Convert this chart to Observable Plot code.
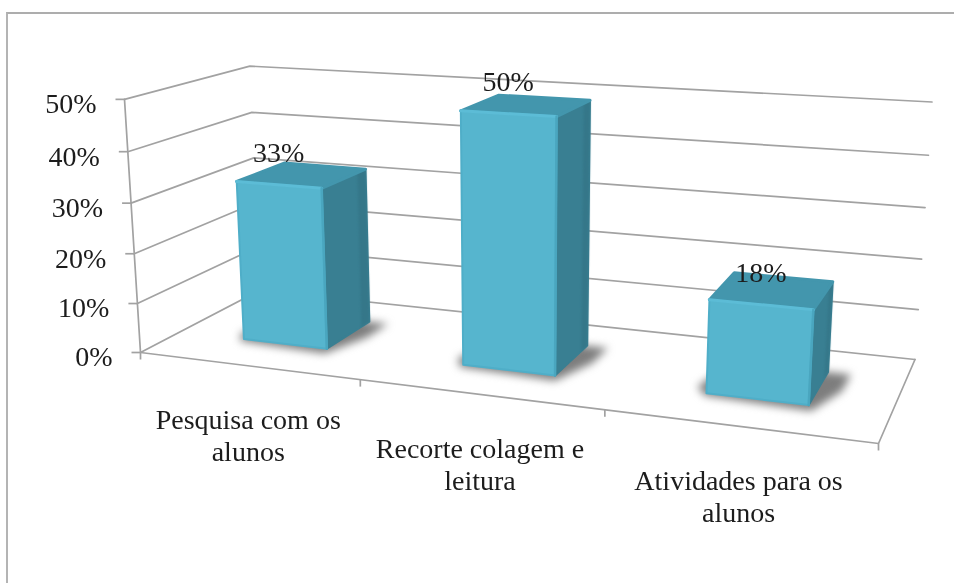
<!DOCTYPE html>
<html><head><meta charset="utf-8">
<script src="https://cdn.jsdelivr.net/npm/d3@7"></script>
<script src="https://cdn.jsdelivr.net/npm/@observablehq/plot@0.6"></script>
<style>
html,body{margin:0;padding:0;background:#fff;overflow:hidden}
#frame{position:absolute;left:6px;top:12px;width:948px;height:571px;border-left:2px solid #b4b4b4;border-top:2px solid #adadad;box-sizing:border-box}
#chart{position:absolute;left:0;top:0}
</style></head><body>
<div id="frame"></div><div id="chart"></div>
<script>
const categories = ["Pesquisa com os\nalunos", "Recorte colagem e\nleitura", "Atividades para os\nalunos"];
const values = [33, 50, 18];
const valueLabels = ["33%", "50%", "18%"];
const ticks = [0, 10, 20, 30, 40, 50];
const tickLabels = ["0%", "10%", "20%", "30%", "40%", "50%"];
const categoryTicks = [0, 1, 2, 3];

// 3D view of the chart box
const floorCorners = [[140,352],[878,443],[914.5,359],[259,290]];
const vanish = [519,6349], lift = -0.0405;
function homography([p0,p1,p2,p3]) {
  const dx1=p1[0]-p2[0], dx2=p3[0]-p2[0], sx=p0[0]-p1[0]+p2[0]-p3[0];
  const dy1=p1[1]-p2[1], dy2=p3[1]-p2[1], sy=p0[1]-p1[1]+p2[1]-p3[1];
  const den=dx1*dy2-dx2*dy1;
  const g=(sx*dy2-dx2*sy)/den, h=(dx1*sy-sx*dy1)/den;
  const a=p1[0]-p0[0]+g*p1[0], b=p3[0]-p0[0]+h*p3[0], c=p0[0];
  const d=p1[1]-p0[1]+g*p1[1], e=p3[1]-p0[1]+h*p3[1], f=p0[1];
  return (s,t)=>[a*s+b*t+c, d*s+e*t+f, g*s+h*t+1];
}
const floorH=homography(floorCorners);
function project(u,d,v){
  const [X,Y,W]=floorH(u/3,d), k=lift*v/50;
  return [(X+k*vanish[0])/(W+k), (Y+k*vanish[1])/(W+k)];
}
const pt=(u,d,v,key)=>{const [x,y]=project(u,d,v);return {x,y,key};};

const halfWidth=0.195, centre=0.503, dFront=0.31, dBack=0.72, barScale=0.98;
const boxes=values.map((v,i)=>({i,v:v*barScale,u0:i+centre-halfWidth,u1:i+centre+halfWidth}));
const poly=(fn)=>boxes.flatMap(b=>fn(b).map(p=>pt(p[0],p[1],p[2],b.i)));
const frontFace=poly(b=>[[b.u0,dFront,0],[b.u1,dFront,0],[b.u1,dFront,b.v],[b.u0,dFront,b.v],[b.u0,dFront,0]]);
const topFace=poly(b=>[[b.u0,dFront,b.v],[b.u1,dFront,b.v],[b.u1,dBack,b.v],[b.u0,dBack,b.v],[b.u0,dFront,b.v]]);
const sideFace=poly(b=>[[b.u1,dFront,0],[b.u1,dBack,0],[b.u1,dBack,b.v],[b.u1,dFront,b.v],[b.u1,dFront,0]]);
const sideBand=poly(b=>[[b.u1,dBack-0.08,0],[b.u1,dBack,0],[b.u1,dBack,b.v],[b.u1,dBack-0.08,b.v]]);
const topEdge=poly(b=>[[b.u0,dFront,b.v],[b.u1,dFront,b.v]]);
const rightEdge=poly(b=>[[b.u1,dFront,0],[b.u1,dFront,b.v]]);
const shadowFace=poly(b=>[[b.u0-0.05,dFront+0.06,0],[b.u0,dFront-0.03,0],[b.u1+0.02,dFront-0.06,0],[b.u1+0.09,dFront+0.2,0],[b.u1+0.09,dBack,0],[b.u1,dBack,0],[b.u0,dBack,0]]);

const grid=ticks.flatMap(v=>[pt(0,0,v,v),pt(0,1,v,v),pt(3,1,v,v)]);
const floorEdge=[pt(0,0,0,0),pt(3,0,0,0),pt(3,1,0,0)];
const axisLine=[pt(0,0,0,0),pt(0,0,50,0)];
const yTicks=ticks.map((v,i)=>{const [x,y]=project(0,0,v);return {x,y,label:tickLabels[i]};});
const xTicks=categoryTicks.map(u=>{const [x,y]=project(u,0,0);return {x,y};});
const catLabels=categories.map((c,i)=>{const [x,y]=project(i+centre,0,0);return {x,y,label:c};});
const valLabels=boxes.map((b,i)=>{const [x,y]=project(i+centre,dFront,b.v);return {x,y,label:valueLabels[i]};});

const font="Liberation Serif", soft="blur(0.45px)";
const gridStyle={x:"x",y:"y",z:"key",stroke:"#a2a2a2",strokeWidth:1.7,imageFilter:soft};
const textStyle={fontFamily:font,fontSize:28,fill:"#1c1c1c",imageFilter:soft};
const chart=Plot.plot({
  width:954,height:583,margin:0,
  x:{domain:[0,954],range:[0,954],axis:null},
  y:{domain:[0,583],range:[0,583],axis:null},
  marks:[
    Plot.line(grid,gridStyle),
    Plot.line(floorEdge,gridStyle),
    Plot.line(axisLine,gridStyle),
    Plot.link(yTicks,{x1:d=>d.x-9,x2:"x",y1:"y",y2:"y",stroke:"#a2a2a2",strokeWidth:1.7,imageFilter:soft}),
    Plot.link(xTicks,{x1:"x",x2:"x",y1:"y",y2:d=>d.y+7,stroke:"#a2a2a2",strokeWidth:1.7,imageFilter:soft}),
    Plot.line(shadowFace,{x:"x",y:"y",z:"key",fill:"#7d7d7d",stroke:null,imageFilter:"blur(4px)"}),
    Plot.line(sideFace,{x:"x",y:"y",z:"key",fill:"#397F92",stroke:"#397F92",strokeWidth:2,strokeLinejoin:"round",imageFilter:soft}),
    Plot.line(sideBand,{x:"x",y:"y",z:"key",fill:"#357789",stroke:null,imageFilter:"blur(1px)"}),
    Plot.line(topFace,{x:"x",y:"y",z:"key",fill:"#4396AD",stroke:"#4396AD",strokeWidth:3,strokeLinejoin:"round",imageFilter:soft}),
    Plot.line(frontFace,{x:"x",y:"y",z:"key",fill:"#56B5CE",stroke:"#4FAEC8",strokeWidth:2,strokeLinejoin:"round",imageFilter:soft}),
    Plot.line(topEdge,{x:"x",y:"y",z:"key",stroke:"#5CBCD6",strokeWidth:3,strokeLinecap:"round",imageFilter:soft}),
    Plot.line(rightEdge,{x:"x",y:"y",z:"key",stroke:"#4AA6BF",strokeWidth:2.5,imageFilter:soft}),
    Plot.text(yTicks,{...textStyle,x:d=>d.x-28,y:"y",dy:5,text:"label",textAnchor:"end"}),
    Plot.text(valLabels,{...textStyle,x:"x",y:"y",dy:-32,text:"label"}),
    Plot.text(catLabels,{...textStyle,x:"x",y:"y",dy:41,text:"label",lineAnchor:"top",lineHeight:1.14})
  ]
});
chart.style.background="transparent";
document.getElementById("chart").append(chart);
</script>
</body></html>
